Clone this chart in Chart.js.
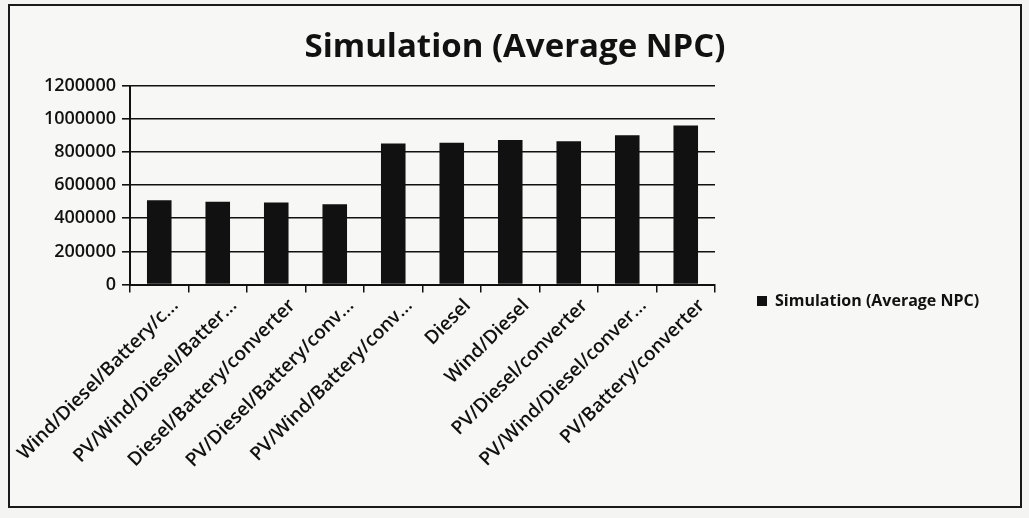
<!DOCTYPE html>
<html>
<head>
<meta charset="utf-8">
<script src="https://cdn.jsdelivr.net/npm/chart.js@4.4.1/dist/chart.umd.min.js"></script>
<style>
  html, body { margin: 0; padding: 0; background: #f4f4f2; }
  #frame { position: absolute; left: 8px; top: 4px; width: 1010px; height: 500px; border: 2px solid #1a1a1a; background: #f7f7f5; }
  #c { display: block; }
</style>
</head>
<body>
<div id="frame"><canvas id="c" width="1010" height="500"></canvas></div>
<script>
const categories = [
  "Wind/Diesel/Battery/c...",
  "PV/Wind/Diesel/Batter...",
  "Diesel/Battery/converter",
  "PV/Diesel/Battery/conv...",
  "PV/Wind/Battery/conv...",
  "Diesel",
  "Wind/Diesel",
  "PV/Diesel/converter",
  "PV/Wind/Diesel/conver...",
  "PV/Battery/converter"
];
const seriesName = "Simulation (Average NPC)";
const npcValues = [508000, 500000, 495000, 485000, 850000, 855000, 872000, 865000, 900000, 960000];
const yTicks = [0, 200000, 400000, 600000, 800000, 1000000, 1200000];

const ink = '#111111';
const fontFamily = "'Open Sans', 'Liberation Sans', sans-serif";

const legendWidthPlugin = {
  id: 'legendWidth',
  beforeInit(chart) {
    const origFit = chart.legend.fit;
    chart.legend.fit = function () {
      origFit.bind(chart.legend)();
      this.width = 305;
    };
  }
};

new Chart(document.getElementById('c'), {
  type: 'bar',
  data: {
    labels: categories,
    datasets: [{
      label: seriesName,
      data: npcValues,
      backgroundColor: ink,
      borderWidth: 0,
      barPercentage: 0.42,
      categoryPercentage: 1.0
    }]
  },
  plugins: [legendWidthPlugin],
  options: {
    responsive: false,
    animation: false,
    layout: { padding: { left: 0, right: 0, top: 6, bottom: 32 } },
    plugins: {
      title: {
        display: true,
        text: seriesName,
        color: ink,
        font: { family: fontFamily, size: 33, weight: 'bold' },
        padding: { top: 16, bottom: 18 }
      },
      legend: {
        position: 'right',
        align: 'center',
        title: {
          display: true,
          text: ' ',
          font: { size: 10 },
          padding: { top: 0, bottom: 104 }
        },
        labels: {
          color: ink,
          boxWidth: 10,
          boxHeight: 10,
          padding: 42,
          font: { family: fontFamily, size: 16, weight: 'bold' }
        }
      },
      tooltip: { enabled: false }
    },
    scales: {
      x: {
        afterFit(axis) { axis.paddingLeft = 0; },
        grid: {
          offset: true,
          drawOnChartArea: false,
          drawTicks: true,
          tickLength: 8,
          color: ink,
          lineWidth: 1.5
        },
        border: { color: ink, width: 2 },
        ticks: {
          color: ink,
          minRotation: 45,
          maxRotation: 45,
          autoSkip: false,
          padding: 2,
          labelOffset: 16,
          font: { family: fontFamily, size: 19, weight: '600' }
        }
      },
      y: {
        min: 0,
        max: 1200000,
        afterBuildTicks(axis) { axis.ticks = yTicks.map(v => ({ value: v })); },
        afterFit(axis) { axis.width = 120; },
        grid: {
          color: ink,
          lineWidth: 1.6,
          drawTicks: true,
          tickLength: 8
        },
        border: { color: ink, width: 2 },
        ticks: {
          color: ink,
          padding: 6,
          font: { family: fontFamily, size: 18, weight: '600' },
          callback: (v) => String(v)
        }
      }
    }
  }
});
</script>
</body>
</html>
